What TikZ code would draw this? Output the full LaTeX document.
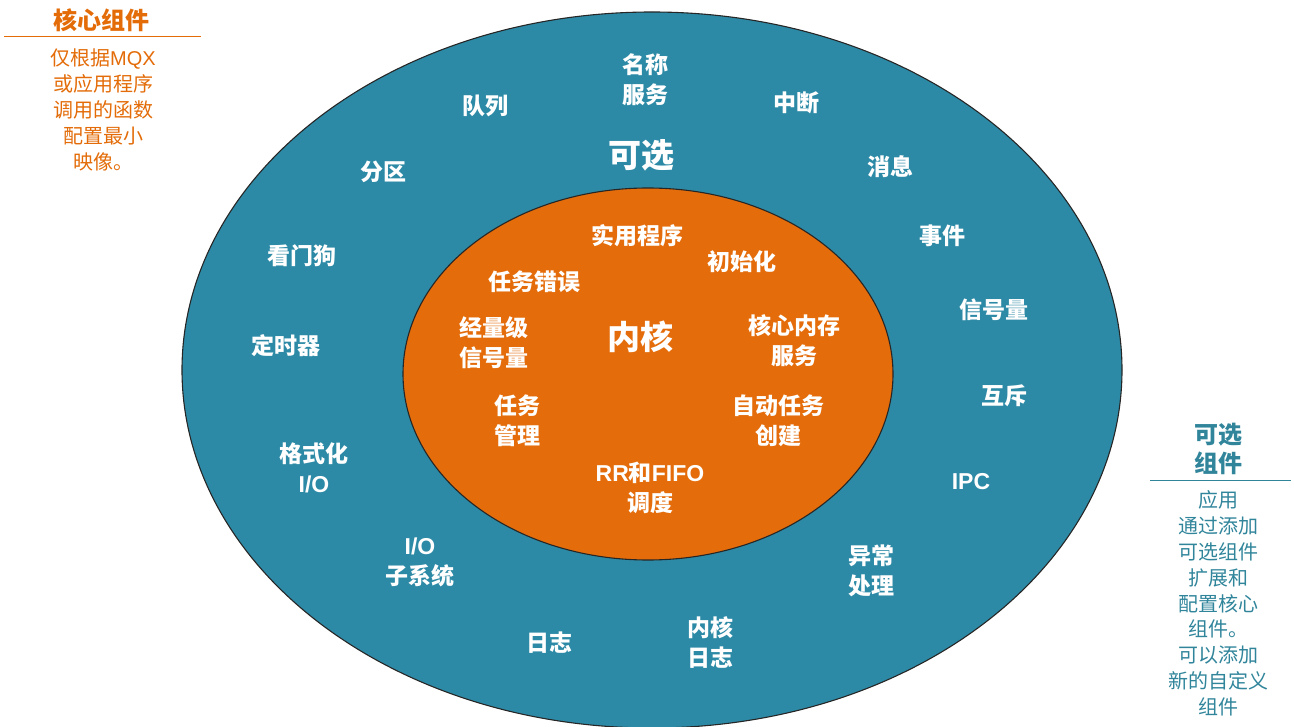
\documentclass[tikz,border=0pt]{standalone}
\usepackage{fontspec}
\setmainfont{Noto Sans CJK SC}
\newfontfamily\lat{Liberation Sans}
\definecolor{tealfill}{RGB}{45,138,166}
\definecolor{orangefill}{RGB}{228,108,10}
\definecolor{legorange}{RGB}{227,108,9}
\definecolor{legteal}{RGB}{49,133,155}
\begin{document}
\begin{tikzpicture}[x=1pt,y=-1pt,
  lbl/.style={text=white,font=\fontsize{23}{30}\selectfont\bfseries,align=center,inner sep=0pt},
  biglbl/.style={text=white,font=\fontsize{33}{36}\selectfont\bfseries,align=center,inner sep=0pt},
  ltitle/.style={font=\fontsize{24}{29}\selectfont\bfseries,align=center,inner sep=0pt},
  lbody/.style={font=\fontsize{20}{25.8}\selectfont,align=center,inner sep=0pt},
  ring/.style={draw=black!85,line width=1.1pt}]
\useasboundingbox (0,0) rectangle (1294,727);
% ellipses
\draw[ring,fill=tealfill] (652,370) ellipse [x radius=470pt, y radius=358pt];
\draw[ring,fill=orangefill] (648,374) ellipse [x radius=245pt, y radius=186pt];
% outer labels
\node[lbl] (mingcheng) at (645,80) {名称\\服务};
\node[lbl] (duilie) at (485,106) {队列};
\node[lbl] (zhongduan) at (796,103) {中断};
\node[biglbl] (kexuan) at (641,155) {可选};
\node[lbl] (fenqu) at (383,172) {分区};
\node[lbl] (xiaoxi) at (890,167) {消息};
\node[lbl] (shijian) at (942,236) {事件};
\node[lbl] (kanmengou) at (302,256) {看门狗};
\node[lbl] (xinhaoliang) at (994,310) {信号量};
\node[lbl] (dingshiqi) at (286,346) {定时器};
\node[lbl] (huchi) at (1004,396) {互斥};
\node[lbl] (geshihua) at (314,468) {格式化\\{\lat I/O}};
\node[lbl] (ipc) at (971,482) {\lat IPC};
\node[lbl] (iozxt) at (420,562) {{\lat I/O}\\子系统};
\node[lbl] (yichang) at (871,571) {异常\\处理};
\node[lbl] (rizhi) at (549,643) {日志};
\node[lbl] (neiherizhi) at (710,642) {内核\\日志};
% inner labels
\node[lbl] (shiyong) at (637,236) {实用程序};
\node[lbl] (chushihua) at (742,262) {初始化};
\node[lbl] (renwucuowu) at (534,282) {任务错误};
\node[lbl] (jingliangji) at (494,343) {经量级\\信号量};
\node[biglbl] (neihe) at (640,337) {内核};
\node[lbl] (hexinneicun) at (794,341) {核心内存\\服务};
\node[lbl] (renwuguanli) at (517,421) {任务\\管理};
\node[lbl] (zidong) at (778,421) {自动任务\\创建};
\node[lbl] (rrfifo) at (650,488) {{\lat RR}和{\lat FIFO}\\调度};
% left legend
\node[ltitle,text=legorange] (coretitle) at (101,20) {核心组件};
\coordinate (corelineL) at (4,37);
\coordinate (corelineR) at (201,37);
\draw[legorange,line width=1pt] (corelineL) -- (corelineR);
\node[lbody,text=legorange] (corebody) at (103,110) {仅根据{\lat MQX}\\或应用程序\\调用的函数\\配置最小\\映像。};
% right legend
\node[ltitle,text=legteal] (opttitle) at (1218,449) {可选\\组件};
\coordinate (optlineL) at (1150,480);
\coordinate (optlineR) at (1291,480);
\draw[legteal,line width=1pt] (optlineL) -- (optlineR);
\node[lbody,text=legteal] (optbody) at (1218,603.5) {应用\\通过添加\\可选组件\\扩展和\\配置核心\\组件。\\可以添加\\新的自定义\\组件};
\end{tikzpicture}
\end{document}
